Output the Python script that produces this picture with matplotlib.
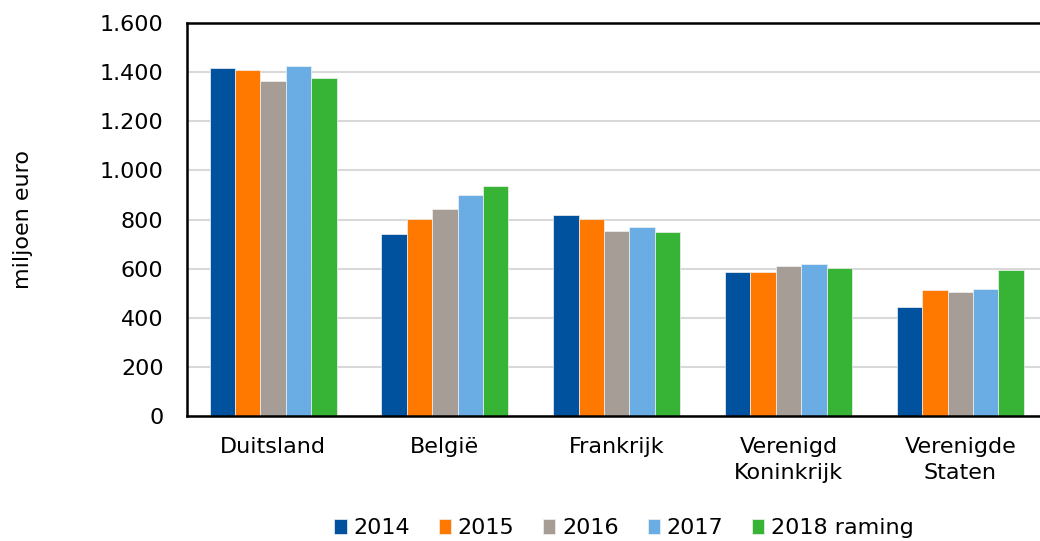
import matplotlib.pyplot as plt
import numpy as np
from matplotlib.ticker import FuncFormatter

landen = ['Duitsland', 'België', 'Frankrijk', 'Verenigd\nKoninkrijk', 'Verenigde\nStaten']
jaren = ['2014', '2015', '2016', '2017', '2018 raming']
v2014 = [1416, 740, 819, 588, 443]
v2015 = [1408, 803, 803, 586, 514]
v2016 = [1362, 843, 754, 611, 506]
v2017 = [1424, 899, 770, 619, 516]
v2018 = [1377, 938, 748, 602, 594]
kleuren = ['#00529F', '#FF7900', '#A59D96', '#6AADE4', '#37B336']

plt.rcParams['font.family'] = 'DejaVu Sans'
fs = 16

fig = plt.figure(figsize=(10.4, 5.41), dpi=100)
# rechterrand valt net buiten het beeld
ax = fig.add_axes([0.18, 0.231, 0.826, 0.7265])

x = np.arange(len(landen))
breedte = 0.148
for i, (jaar, waarden) in enumerate(zip(jaren, [v2014, v2015, v2016, v2017, v2018])):
    ax.bar(x + (i - 2) * breedte, waarden, breedte, color=kleuren[i],
           edgecolor='#F2F2F2', linewidth=0.5, label=jaar, zorder=3)

ax.set_xlim(-0.5, len(landen) - 0.5)
ax.set_ylim(0, 1600)
ax.set_yticks(np.arange(0, 1601, 200))
ax.yaxis.set_major_formatter(FuncFormatter(lambda v, p: f'{int(v):,}'.replace(',', '.')))
ax.set_xticks(x)
ax.set_xticklabels(landen, linespacing=1.4)
ax.tick_params(axis='both', length=0, labelsize=fs, colors='black')
ax.tick_params(axis='x', pad=15)
ax.tick_params(axis='y', pad=17)
ax.grid(axis='y', color='#D9D9D9', linewidth=1.5, zorder=0)

for kant in ['left', 'top', 'bottom']:
    ax.spines[kant].set_color('black')
    ax.spines[kant].set_linewidth(1.8)
    ax.spines[kant].set_zorder(5)
ax.spines['right'].set_visible(False)

ax.set_ylabel('miljoen euro', fontsize=fs, labelpad=48)

fig.legend(loc='lower center', bbox_to_anchor=(0.6, -0.032), ncol=5,
           frameon=False, fontsize=fs, handlelength=0.55, handleheight=0.6,
           handletextpad=0.3, columnspacing=1.3)

fig.savefig('out.png', dpi=100)
